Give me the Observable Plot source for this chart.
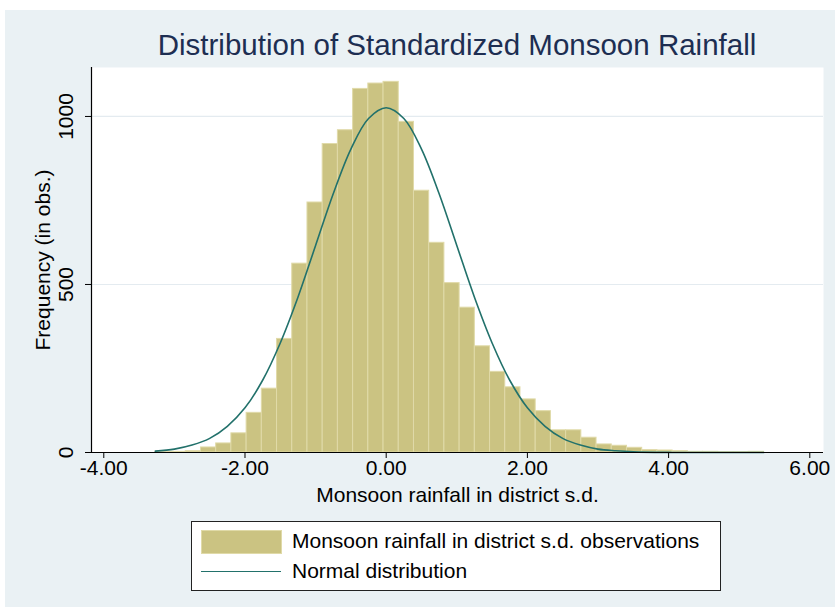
<!DOCTYPE html>
<html>
<head>
<meta charset="utf-8">
<script src="https://cdn.jsdelivr.net/npm/d3@7"></script>
<script src="https://cdn.jsdelivr.net/npm/@observablehq/plot@0.6"></script>
<style>
  body { margin: 0; background: #ffffff; font-family: "Liberation Sans", Arial, sans-serif; }
  #page { position: relative; width: 837px; height: 611px; overflow: hidden; }
  #bg { position: absolute; left: 5px; top: 10px; width: 830px; height: 597px; background: #eaf1f4; }
  #title { position: absolute; left: 91px; width: 732px; top: 27px; line-height: 36px; text-align: center; font-size: 29.5px; color: #1d2e52; white-space: nowrap; }
  #chart { position: absolute; left: 0; top: 0; }
  #legend { position: absolute; left: 191px; top: 521px; width: 528px; height: 68px; border: 1px solid #222; background: #fff; }
  .sw { position: absolute; left: 9px; top: 8px; width: 79px; height: 22px; background: #cbc382; border: 1px solid #e0daa8; }
  .ln { position: absolute; left: 9px; top: 49px; width: 80px; height: 0; border-top: 1.6px solid #22716b; }
  .lt { position: absolute; left: 100px; font-size: 21px; line-height: 24px; color: #000; white-space: nowrap; }
</style>
</head>
<body>
<div id="page">
  <div id="bg"></div>
  <div id="chart"></div>
  <div id="title">Distribution of Standardized Monsoon Rainfall</div>
  <div id="legend">
    <div class="sw"></div>
    <div class="lt" style="top:7px">Monsoon rainfall in district s.d. observations</div>
    <div class="ln"></div>
    <div class="lt" style="top:37px">Normal distribution</div>
  </div>
</div>
<script>
// Histogram: 40 bins starting at the data minimum
const binMin = -3.27;
const binWidth = 0.2155;
const counts = [1, 2, 4, 15, 27, 57, 118, 190, 338, 562,
                744, 918, 959, 1082, 1098, 1103, 984, 779, 624, 504,
                431, 316, 240, 194, 158, 123, 66, 66, 44, 24,
                20, 14, 7, 6, 4, 2, 2, 1, 1, 2];

// Normal distribution overlay
const normalX = [-3.27, -3.0, -2.75, -2.5, -2.25, -2.0, -1.75, -1.5, -1.25, -1.0, -0.75, -0.5, -0.25, 0,
                 0.25, 0.5, 0.75, 1.0, 1.25, 1.5, 1.75, 2.0, 2.25, 2.5, 2.75, 3.0, 3.25, 3.5, 4.0, 4.5, 5.0, 5.35];
const normalY = [4, 10, 22, 42, 78, 133, 215, 326, 462, 616, 770, 903, 994, 1026,
                 994, 903, 770, 616, 462, 326, 215, 133, 78, 42, 22, 10, 5, 2, 0.3, 0, 0, 0];

const xTicks = [-4, -2, 0, 2, 4, 6];
const yTicks = [0, 500, 1000];
const gridVals = [500, 1000];

const bins = counts.map((c, i) => ({x1: binMin + i * binWidth, x2: binMin + (i + 1) * binWidth, count: c}));
const curve = normalX.map((x, i) => ({x, y: normalY[i]}));

const xDomain = [-4.174, 6.194];

const chart = Plot.plot({
  width: 837,
  height: 510,
  marginTop: 67,
  marginBottom: 58,
  marginLeft: 91,
  marginRight: 14,
  x: {domain: xDomain},
  y: {domain: [0, 1145.7]},
  style: {background: "transparent", fontFamily: "'Liberation Sans', Arial, sans-serif", fontSize: "21px", color: "#000", overflow: "visible"},
  marks: [
    Plot.frame({fill: "#ffffff", stroke: null}),
    Plot.ruleY(gridVals, {stroke: "#e4ebf0", strokeWidth: 1.2}),
    Plot.rectY(bins, {x1: "x1", x2: "x2", y: "count", fill: "#cbc382", stroke: "#e0daa8", strokeWidth: 1}),
    Plot.line(curve, {x: "x", y: "y", curve: "catmull-rom", stroke: "#22716b", strokeWidth: 1.6}),
    Plot.ruleY([0], {stroke: "#000", strokeWidth: 1.2}),
    Plot.ruleX([xDomain[0]], {stroke: "#000", strokeWidth: 1.2}),
    Plot.axisX({ticks: xTicks, tickFormat: d => d.toFixed(2), tickSize: 6, tickPadding: 2, fontSize: 21, label: null, stroke: "#000"}),
    Plot.axisY({ticks: yTicks, tickSize: 6, tickFormat: () => "", label: null}),
    Plot.text(yTicks, {y: d => d, text: d => String(d), rotate: -90, frameAnchor: "left", textAnchor: "middle", lineAnchor: "middle", dx: -25, fontSize: 21, fill: "#000"}),
    Plot.text(["Frequency (in obs.)"], {frameAnchor: "left", rotate: -90, textAnchor: "middle", lineAnchor: "middle", dx: -48, fontSize: 21, fill: "#000"}),
    Plot.text(["Monsoon rainfall in district s.d."], {frameAnchor: "bottom", lineAnchor: "middle", dy: 43, fontSize: 21, fill: "#000"})
  ]
});
document.getElementById("chart").appendChild(chart);
</script>
</body>
</html>
